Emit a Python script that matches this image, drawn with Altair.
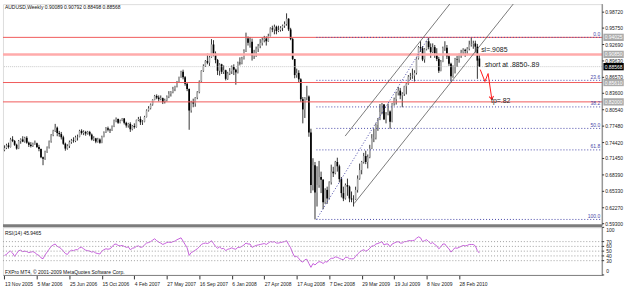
import altair as alt
import pandas as pd

FONT = "Liberation Sans"

# ---------------- data ----------------
first_week = "2005-11-13"
week_count = 235
dates = [d.strftime("%Y-%m-%d") for d in pd.date_range(first_week, periods=week_count, freq="7D")]

opens = [
    0.7300, 0.7340, 0.7390, 0.7360, 0.7500, 0.7470, 0.7400,
    0.7330, 0.7470, 0.7500, 0.7460, 0.7530, 0.7440, 0.7400, 0.7380, 0.7420, 0.7430,
    0.7360, 0.7320, 0.7170, 0.7140, 0.7270, 0.7350, 0.7460, 0.7580, 0.7660, 0.7720,
    0.7620, 0.7600, 0.7540, 0.7420, 0.7330, 0.7380, 0.7450, 0.7480, 0.7470, 0.7540,
    0.7550, 0.7660, 0.7620, 0.7640, 0.7610, 0.7640, 0.7590, 0.7500, 0.7520, 0.7460,
    0.7500, 0.7440, 0.7550, 0.7630, 0.7710, 0.7680, 0.7670, 0.7740, 0.7850, 0.7880, 0.7810, 0.7850,
    0.7890, 0.7810, 0.7760, 0.7790, 0.7690, 0.7750, 0.7730, 0.7860, 0.7880, 0.7820,
    0.7830, 0.7920, 0.8040, 0.8080, 0.8150, 0.8240, 0.8310, 0.8280, 0.8250, 0.8270,
    0.8200, 0.8230, 0.8300, 0.8350, 0.8380, 0.8440, 0.8490, 0.8580, 0.8660, 0.8760,
    0.8660, 0.8540, 0.8440, 0.8040, 0.8190, 0.8170, 0.8280, 0.8380, 0.8580, 0.8780,
    0.8870, 0.8960, 0.8930, 0.9030, 0.9270, 0.9100, 0.8980, 0.8780, 0.8900, 0.8760, 0.8790, 0.8630, 0.8730,
    0.8770, 0.8850, 0.8800, 0.8750, 0.8930, 0.8920, 0.9010, 0.9150, 0.9380, 0.9300,
    0.9320, 0.9060, 0.9120, 0.9190, 0.9240, 0.9300, 0.9350, 0.9380, 0.9330, 0.9430,
    0.9570, 0.9550, 0.9600, 0.9520, 0.9540, 0.9580, 0.9620, 0.9650, 0.9750, 0.9550,
    0.9370, 0.9000, 0.8700, 0.8740, 0.8620, 0.8250, 0.8060, 0.8280, 0.8300, 0.7630,
    0.6650, 0.7020, 0.6510, 0.6650, 0.6800, 0.6750, 0.6330, 0.6560, 0.6400, 0.6700, 0.6900, 0.6870,
    0.7080, 0.7000, 0.6760, 0.6500, 0.6400, 0.6650, 0.6620, 0.6400, 0.6380, 0.6380,
    0.6560, 0.6770, 0.6930, 0.7080, 0.7190, 0.7080, 0.7170, 0.7330, 0.7520, 0.7530,
    0.7770, 0.7870, 0.8010, 0.8150, 0.7870, 0.7970, 0.8020, 0.7830, 0.8170, 0.8250,
    0.8370, 0.8410, 0.8320, 0.8350, 0.8490, 0.8540, 0.8670, 0.8680, 0.8690, 0.8740,
    0.9010, 0.9220, 0.9200, 0.8990, 0.9180, 0.9330, 0.9220, 0.9130, 0.9220, 0.9100, 0.9000, 0.8780,
    0.8950, 0.9200, 0.9210, 0.9050, 0.8910, 0.8680, 0.8860, 0.9000, 0.8990, 0.9070,
    0.9120, 0.9170, 0.9150, 0.9190, 0.9270, 0.9280, 0.9290, 0.9230, 0.90089,
]
highs = [
    0.7390, 0.7420, 0.7440, 0.7530, 0.7560, 0.7490, 0.7420,
    0.7490, 0.7520, 0.7560, 0.7550, 0.7560, 0.7460, 0.7450, 0.7440, 0.7480, 0.7440,
    0.7400, 0.7330, 0.7180, 0.7290, 0.7370, 0.7480, 0.7600, 0.7680, 0.7790, 0.7740,
    0.7660, 0.7640, 0.7570, 0.7440, 0.7410, 0.7480, 0.7510, 0.7540, 0.7570, 0.7590,
    0.7680, 0.7690, 0.7670, 0.7660, 0.7660, 0.7660, 0.7610, 0.7560, 0.7530, 0.7530,
    0.7520, 0.7570, 0.7650, 0.7730, 0.7740, 0.7700, 0.7760, 0.7870, 0.7910, 0.7890, 0.7870, 0.7900,
    0.7900, 0.7830, 0.7810, 0.7820, 0.7770, 0.7800, 0.7870, 0.7920, 0.7930, 0.7860,
    0.7940, 0.8060, 0.8120, 0.8170, 0.8250, 0.8330, 0.8340, 0.8320, 0.8320, 0.8280,
    0.8260, 0.8320, 0.8400, 0.8400, 0.8480, 0.8500, 0.8590, 0.8670, 0.8780, 0.8800,
    0.8680, 0.8570, 0.8450, 0.8220, 0.8260, 0.8290, 0.8400, 0.8600, 0.8790, 0.8900,
    0.8980, 0.9100, 0.9060, 0.9370, 0.9350, 0.9140, 0.9000, 0.8920, 0.8910, 0.8880, 0.8800, 0.8760, 0.8830,
    0.8880, 0.8900, 0.8820, 0.8950, 0.9030, 0.9040, 0.9180, 0.9490, 0.9420, 0.9410,
    0.9380, 0.9170, 0.9230, 0.9280, 0.9370, 0.9400, 0.9430, 0.9420, 0.9470, 0.9590,
    0.9620, 0.9640, 0.9620, 0.9620, 0.9610, 0.9640, 0.9700, 0.9850, 0.9760, 0.9580,
    0.9390, 0.9000, 0.8820, 0.8790, 0.8640, 0.8290, 0.8290, 0.8500, 0.8320, 0.7700,
    0.7150, 0.7080, 0.7000, 0.7100, 0.6900, 0.6760, 0.6590, 0.6620, 0.6720, 0.7030, 0.6990, 0.7100,
    0.7160, 0.7030, 0.6800, 0.6620, 0.6680, 0.6770, 0.6640, 0.6530, 0.6460, 0.6620,
    0.6830, 0.7050, 0.7100, 0.7250, 0.7290, 0.7220, 0.7400, 0.7600, 0.7700, 0.7800,
    0.7900, 0.8160, 0.8180, 0.8160, 0.8010, 0.8170, 0.8040, 0.8180, 0.8280, 0.8390,
    0.8480, 0.8460, 0.8380, 0.8500, 0.8550, 0.8700, 0.8740, 0.8820, 0.8790, 0.9030,
    0.9240, 0.9330, 0.9240, 0.9200, 0.9340, 0.9405, 0.9290, 0.9290, 0.9260, 0.9200, 0.9040, 0.8980,
    0.9230, 0.9330, 0.9260, 0.9100, 0.8930, 0.8880, 0.9020, 0.9060, 0.9100, 0.9170,
    0.9200, 0.9190, 0.9220, 0.9340, 0.9405, 0.9340, 0.9340, 0.9280, 0.90792,
]
lows = [
    0.7280, 0.7320, 0.7330, 0.7350, 0.7450, 0.7380, 0.7310,
    0.7320, 0.7420, 0.7450, 0.7440, 0.7420, 0.7360, 0.7350, 0.7360, 0.7400, 0.7340,
    0.7280, 0.7150, 0.7020, 0.7120, 0.7250, 0.7330, 0.7440, 0.7560, 0.7640, 0.7560,
    0.7550, 0.7500, 0.7400, 0.7290, 0.7310, 0.7340, 0.7420, 0.7440, 0.7450, 0.7480,
    0.7540, 0.7590, 0.7580, 0.7570, 0.7590, 0.7560, 0.7480, 0.7470, 0.7430, 0.7440,
    0.7420, 0.7430, 0.7540, 0.7620, 0.7650, 0.7620, 0.7660, 0.7730, 0.7820, 0.7790, 0.7800, 0.7840,
    0.7780, 0.7720, 0.7720, 0.7640, 0.7670, 0.7700, 0.7720, 0.7840, 0.7770, 0.7770,
    0.7820, 0.7910, 0.8020, 0.8060, 0.8130, 0.8230, 0.8250, 0.8210, 0.8230, 0.8160,
    0.8170, 0.8210, 0.8270, 0.8300, 0.8360, 0.8400, 0.8470, 0.8560, 0.8650, 0.8620,
    0.8500, 0.8400, 0.7680, 0.8000, 0.8100, 0.8110, 0.8250, 0.8360, 0.8560, 0.8760,
    0.8850, 0.8900, 0.8870, 0.9020, 0.9050, 0.8920, 0.8700, 0.8690, 0.8720, 0.8720, 0.8600, 0.8610, 0.8700,
    0.8720, 0.8700, 0.8520, 0.8730, 0.8880, 0.8900, 0.8990, 0.9130, 0.9250, 0.9210,
    0.8970, 0.9000, 0.9040, 0.9130, 0.9200, 0.9250, 0.9310, 0.9250, 0.9320, 0.9420,
    0.9500, 0.9460, 0.9460, 0.9500, 0.9510, 0.9520, 0.9580, 0.9620, 0.9520, 0.9350,
    0.8980, 0.8640, 0.8650, 0.8560, 0.8200, 0.7800, 0.7900, 0.8230, 0.7550, 0.6500,
    0.6550, 0.6010, 0.6250, 0.6600, 0.6500, 0.6200, 0.6300, 0.6300, 0.6380, 0.6660, 0.6800, 0.6850,
    0.6900, 0.6700, 0.6420, 0.6350, 0.6380, 0.6450, 0.6330, 0.6330, 0.6250, 0.6370,
    0.6510, 0.6750, 0.6850, 0.7050, 0.7040, 0.6960, 0.7150, 0.7320, 0.7450, 0.7500,
    0.7660, 0.7860, 0.7970, 0.7870, 0.7800, 0.7950, 0.7700, 0.7820, 0.8130, 0.8150,
    0.8320, 0.8250, 0.8100, 0.8310, 0.8340, 0.8520, 0.8610, 0.8630, 0.8580, 0.8710,
    0.8990, 0.9130, 0.8960, 0.8930, 0.9160, 0.9180, 0.9020, 0.9110, 0.9020, 0.8960, 0.8740, 0.8770,
    0.8940, 0.9150, 0.9000, 0.8870, 0.8580, 0.8650, 0.8730, 0.8850, 0.8930, 0.9020,
    0.9090, 0.9040, 0.9070, 0.9160, 0.9230, 0.9190, 0.9120, 0.8630, 0.88498,
]
closes = [
    0.7340, 0.7390, 0.7360, 0.7500, 0.7470, 0.7400, 0.7330,
    0.7470, 0.7500, 0.7460, 0.7530, 0.7440, 0.7400, 0.7380, 0.7420, 0.7430, 0.7360,
    0.7320, 0.7170, 0.7140, 0.7270, 0.7350, 0.7460, 0.7580, 0.7660, 0.7720, 0.7620,
    0.7600, 0.7540, 0.7420, 0.7330, 0.7380, 0.7450, 0.7480, 0.7470, 0.7540, 0.7550,
    0.7660, 0.7620, 0.7640, 0.7610, 0.7640, 0.7590, 0.7500, 0.7520, 0.7460, 0.7500,
    0.7440, 0.7550, 0.7630, 0.7710, 0.7680, 0.7670, 0.7740, 0.7850, 0.7880, 0.7810, 0.7850, 0.7890,
    0.7810, 0.7760, 0.7790, 0.7690, 0.7750, 0.7730, 0.7860, 0.7880, 0.7820, 0.7830,
    0.7920, 0.8040, 0.8080, 0.8150, 0.8240, 0.8310, 0.8280, 0.8250, 0.8270, 0.8200,
    0.8230, 0.8300, 0.8350, 0.8380, 0.8440, 0.8490, 0.8580, 0.8660, 0.8760, 0.8660,
    0.8540, 0.8440, 0.8040, 0.8190, 0.8170, 0.8280, 0.8380, 0.8580, 0.8780, 0.8870,
    0.8960, 0.8930, 0.9030, 0.9270, 0.9100, 0.8980, 0.8780, 0.8900, 0.8760, 0.8790, 0.8630, 0.8730, 0.8770,
    0.8850, 0.8800, 0.8750, 0.8930, 0.8920, 0.9010, 0.9150, 0.9380, 0.9300, 0.9320,
    0.9060, 0.9120, 0.9190, 0.9240, 0.9300, 0.9350, 0.9380, 0.9330, 0.9430, 0.9570,
    0.9550, 0.9600, 0.9520, 0.9540, 0.9580, 0.9620, 0.9650, 0.9750, 0.9550, 0.9370,
    0.9000, 0.8700, 0.8740, 0.8620, 0.8250, 0.8060, 0.8280, 0.8300, 0.7630, 0.6650,
    0.7020, 0.6510, 0.6650, 0.6800, 0.6750, 0.6330, 0.6560, 0.6400, 0.6700, 0.6900, 0.6870, 0.7080,
    0.7000, 0.6760, 0.6500, 0.6400, 0.6650, 0.6620, 0.6400, 0.6380, 0.6380, 0.6560,
    0.6770, 0.6930, 0.7080, 0.7190, 0.7080, 0.7170, 0.7330, 0.7520, 0.7530, 0.7770,
    0.7870, 0.8010, 0.8150, 0.7870, 0.7970, 0.8020, 0.7830, 0.8170, 0.8250, 0.8370,
    0.8410, 0.8320, 0.8350, 0.8490, 0.8540, 0.8670, 0.8680, 0.8690, 0.8740, 0.9010,
    0.9220, 0.9200, 0.8990, 0.9180, 0.9330, 0.9220, 0.9130, 0.9220, 0.9100, 0.9000, 0.8780, 0.8950,
    0.9200, 0.9210, 0.9050, 0.8910, 0.8680, 0.8860, 0.9000, 0.8990, 0.9070, 0.9120,
    0.9170, 0.9150, 0.9190, 0.9270, 0.9280, 0.9290, 0.9230, 0.8970, 0.88568,
]
rsi_values = [
    41, 43, 48, 50, 46, 39, 45, 51, 52, 49,
    50, 49, 47, 48, 49, 47, 43, 41, 36, 34,
    42, 48, 54, 60, 63, 65, 60, 58, 55, 50,
    45, 43, 49, 52, 51, 53, 53, 57, 58, 55,
    52, 51, 50, 48, 49, 46, 45, 44, 50, 53,
    55, 54, 55, 59, 64, 65, 62, 61, 62, 60,
    58, 59, 53, 56, 57, 60, 61, 58, 59, 63,
    67, 68, 70, 73, 76, 72, 69, 67, 64, 66,
    68, 69, 68, 70, 71, 74, 76, 78, 71, 64,
    57, 41, 47, 49, 52, 55, 59, 64, 66, 67,
    66, 68, 72, 66, 60, 56, 59, 55, 56, 51,
    54, 55, 57, 55, 54, 58, 58, 60, 63, 67,
    65, 65, 58, 60, 62, 63, 64, 65, 66, 64,
    67, 70, 69, 70, 67, 67, 68, 69, 70, 72,
    64, 57, 46, 38, 39, 35, 29, 27, 32, 33,
    24, 16, 24, 21, 25, 28, 27, 24, 28, 27,
    32, 35, 35, 38, 37, 35, 33, 32, 37, 37,
    34, 34, 34, 39, 44, 48, 51, 53, 50, 52,
    56, 61, 61, 65, 66, 68, 70, 63, 65, 65,
    59, 65, 67, 69, 70, 67, 67, 70, 70, 72,
    72, 72, 73, 77, 80, 78, 70, 72, 74, 70,
    66, 68, 64, 61, 55, 59, 65, 65, 59, 55,
    48, 53, 57, 56, 58, 60, 62, 61, 62, 64,
    64, 64, 61, 51, 45.9465,
]

price_ticks = [0.5930, 0.6227, 0.6533, 0.6839, 0.7145, 0.7442, 0.7748, 0.8054,
               0.8360, 0.8657, 0.8963, 0.9269, 0.9575, 0.9872]
date_ticks = ["2005-11-13", "2006-03-05", "2006-06-25", "2006-10-15", "2007-02-04",
              "2007-05-27", "2007-09-16", "2008-01-06", "2008-04-27", "2008-08-17",
              "2008-12-07", "2009-03-29", "2009-07-19", "2009-11-08", "2010-02-28"]
rsi_mid_ticks = [30, 40, 50, 60, 70]
rsi_top_tick = 100
rsi_bottom_tick = 0
rsi_levels = [30, 40, 50, 60, 70]

red_levels = [0.94025, 0.85610, 0.82000]
sl_level = 0.90850
bid_price = 0.88568
box_prices = [0.94025, 0.90850, 0.85610, 0.82000, 0.88568]
box_texts = ["0.94025", "0.90850", "0.85610", "0.82000", "0.88568"]
box_kinds = ["line", "line", "line", "line", "bid"]

fib_names = ["0.0", "23.6", "38.2", "50.0", "61.8", "100.0"]
fib_prices = [0.94025, 0.86016, 0.81062, 0.77058, 0.73053, 0.60090]
fib_start = "2008-10-24"
fib_diag_dates = ["2008-10-24", "2009-11-15"]
fib_diag_prices = [0.60090, 0.94025]

channel_ids = ["lower", "lower", "upper", "upper"]
channel_dates = ["2009-03-03", "2010-09-08", "2009-01-31", "2010-02-01"]
channel_prices = [0.6305, 1.0059, 0.7563, 1.0059]

arrow_dates = ["2010-05-12", "2010-05-28", "2010-06-08", "2010-06-21"]
arrow_prices = [0.8802, 0.8580, 0.8728, 0.8247]

note_texts = ["sl=.9085", "short at .8850-.89", "tp=.82"]
note_dates = ["2010-05-15", "2010-05-28", "2010-06-18"]
note_prices = [0.9171, 0.8894, 0.8210]

title_text = "AUDUSD,Weekly  0.90089 0.90792 0.88498 0.88568"
rsi_title = "RSI(14) 45.9465"
copyright_text = "FXPro MT4, \u00a9 2001-2009 MetaQuotes Software Corp."

# ---------------- tables ----------------
bars = pd.DataFrame({"date": dates, "open": opens, "high": highs, "low": lows,
                     "close": closes, "rsi": rsi_values})
bars["dir"] = ["up" if c >= o else "down" for o, c in zip(opens, closes)]

one = pd.DataFrame({"k": [0]})
W, H_MAIN, H_RSI = 604, 223, 48
LABEL_COLOR = "#1a1a1a"


def dt(s, h=0):
    y, m, d = (int(v) for v in s.split("-"))
    return alt.DateTime(year=y, month=m, date=d, hours=h, utc=True)


x_scale = alt.Scale(type="utc", domain=[dt("2005-11-07", 21), dt("2011-07-06", 12)])
y_scale = alt.Scale(domain=[0.5899, 1.0022], nice=False, zero=False)

X = alt.X("date:T", scale=x_scale, axis=None)

# ---------------- main panel ----------------
base = alt.Chart(bars)
wicks = base.mark_rule(color="#333333", strokeWidth=1).encode(
    x=X, y=alt.Y("low:Q", scale=y_scale, axis=None), y2="high:Q")
bodies = base.mark_rule(strokeWidth=1.7).encode(
    x=X, y=alt.Y("open:Q", scale=y_scale, axis=None), y2="close:Q",
    color=alt.Color("dir:N", scale=alt.Scale(domain=["up", "down"], range=["#ababab", "#000000"]),
                    legend=None))

red_lines = alt.Chart(pd.DataFrame({"p": red_levels})).mark_rule(
    color="#f05a5a", strokeWidth=1).encode(y=alt.Y("p:Q", scale=y_scale, axis=None))
sl_line = alt.Chart(pd.DataFrame({"p": [sl_level]})).mark_rule(
    color="#ffabab", strokeWidth=2.5).encode(y=alt.Y("p:Q", scale=y_scale, axis=None))
bid_line = alt.Chart(pd.DataFrame({"p": [bid_price]})).mark_rule(
    color="#c8c8c8", strokeWidth=1, strokeDash=[1, 1]).encode(y=alt.Y("p:Q", scale=y_scale, axis=None))

fib_df = pd.DataFrame({"name": fib_names, "p": fib_prices, "start": [fib_start] * len(fib_names)})
fib_rules = alt.Chart(fib_df).mark_rule(color="#4848a8", strokeWidth=1, strokeDash=[1, 2]).encode(
    x=alt.X("start:T", scale=x_scale, axis=None), x2=alt.value(W),
    y=alt.Y("p:Q", scale=y_scale, axis=None))
fib_text = alt.Chart(fib_df).mark_text(align="right", baseline="bottom", fontSize=5, font=FONT,
                                       color="#4848a8", dy=-0.5).encode(
    x=alt.value(W - 2), y=alt.Y("p:Q", scale=y_scale, axis=None), text="name:N")
fib_diag = alt.Chart(pd.DataFrame({"d": fib_diag_dates, "p": fib_diag_prices})).mark_line(
    color="#4848a8", strokeWidth=1, strokeDash=[1, 2]).encode(
    x=alt.X("d:T", scale=x_scale, axis=None), y=alt.Y("p:Q", scale=y_scale, axis=None))

channels = alt.Chart(pd.DataFrame({"id": channel_ids, "d": channel_dates, "p": channel_prices})).mark_line(
    color="#5a5a5a", strokeWidth=0.8, clip=True).encode(
    x=alt.X("d:T", scale=x_scale, axis=None), y=alt.Y("p:Q", scale=y_scale, axis=None),
    detail="id:N")

arrow_df = pd.DataFrame({"d": arrow_dates, "p": arrow_prices, "o": list(range(len(arrow_dates)))})
arrow_line = alt.Chart(arrow_df).mark_line(color="#ff1a1a", strokeWidth=1).encode(
    x=alt.X("d:T", scale=x_scale, axis=None), y=alt.Y("p:Q", scale=y_scale, axis=None), order="o:Q")
arrow_head = alt.Chart(arrow_df.tail(1)).mark_point(
    shape="M-0.7,-1L0,0L0.7,-1", filled=False, color="#ff1a1a", strokeWidth=1, size=40, angle=351,
    opacity=1).encode(x=alt.X("d:T", scale=x_scale, axis=None), y=alt.Y("p:Q", scale=y_scale, axis=None))

notes = alt.Chart(pd.DataFrame({"t": note_texts, "d": note_dates, "p": note_prices})).mark_text(
    align="left", baseline="middle", fontSize=7, font=FONT, color="#222222").encode(
    x=alt.X("d:T", scale=x_scale, axis=None), y=alt.Y("p:Q", scale=y_scale, axis=None), text="t:N")

# price scale on the right (drawn as marks)
tick_df = pd.DataFrame({"p": price_ticks})
price_tick_marks = alt.Chart(tick_df).mark_rule(color="#333333", strokeWidth=1).encode(
    x=alt.value(W), x2=alt.value(W + 2), y=alt.Y("p:Q", scale=y_scale, axis=None))
price_tick_labels = alt.Chart(tick_df).mark_text(
    align="left", baseline="middle", fontSize=5, font=FONT, color=LABEL_COLOR).encode(
    x=alt.value(W + 3), y=alt.Y("p:Q", scale=y_scale, axis=None), text=alt.Text("p:Q", format=".5f"))

box_df = pd.DataFrame({"p": box_prices, "t": box_texts, "kind": box_kinds})
boxes = alt.Chart(box_df).mark_point(
    shape="M-1,-0.36L1,-0.36L1,0.36L-1,0.36Z", filled=True, size=420, opacity=1,
    strokeWidth=0).encode(
    x=alt.value(W + 11.5), y=alt.Y("p:Q", scale=y_scale, axis=None),
    color=alt.Color("kind:N", scale=alt.Scale(domain=["line", "bid"], range=["#ee1c1c", "#000000"]),
                    legend=None))
box_text = alt.Chart(box_df).mark_text(align="left", baseline="middle", fontSize=5, font=FONT,
                                       color="white").encode(
    x=alt.value(W + 2.5), y=alt.Y("p:Q", scale=y_scale, axis=None), text="t:N")

right_border = alt.Chart(one).mark_rule(color="#707070", strokeWidth=1).encode(
    x=alt.value(W), y=alt.value(0), y2=alt.value(H_MAIN))

title = alt.Chart(one).mark_text(align="left", baseline="middle", fontSize=5, font=FONT,
                                 color="#111111").encode(
    x=alt.value(2), y=alt.value(3), text=alt.value(title_text))

main = alt.layer(
    wicks, bodies, bid_line, red_lines, sl_line, fib_rules, fib_diag, channels,
    fib_text, arrow_line, arrow_head, notes, right_border, price_tick_marks, price_tick_labels,
    boxes, box_text, title,
).properties(width=W, height=H_MAIN)

# ---------------- RSI panel ----------------
date_axis = alt.Axis(values=[dt(s) for s in date_ticks], format="%-d %b %Y", labelFontSize=5,
                     labelFont=FONT, labelColor=LABEL_COLOR, labelAlign="left", labelPadding=3,
                     tickSize=4, tickColor="#333333", domainColor="#808080", grid=False,
                     title=None, labelOverlap=False, labelFlush=False)
rsi_scale = alt.Scale(domain=[0, 100], nice=False)

rsi_lines = alt.Chart(pd.DataFrame({"lvl": rsi_levels})).mark_rule(
    color="#a0a0a0", strokeWidth=1, strokeDash=[1, 2]).encode(y=alt.Y("lvl:Q", scale=rsi_scale, axis=None))
rsi_line = alt.Chart(bars).mark_line(color="#c660dc", strokeWidth=1).encode(
    x=alt.X("date:T", scale=x_scale, axis=date_axis),
    y=alt.Y("rsi:Q", scale=rsi_scale, axis=None))

rsi_tick_df = pd.DataFrame({"v": [rsi_bottom_tick] + rsi_mid_ticks + [rsi_top_tick]})
rsi_tick_marks = alt.Chart(rsi_tick_df).mark_rule(color="#333333", strokeWidth=1).encode(
    x=alt.value(W), x2=alt.value(W + 2), y=alt.Y("v:Q", scale=rsi_scale, axis=None))
rsi_mid_labels = alt.Chart(pd.DataFrame({"v": rsi_mid_ticks})).mark_text(
    align="left", baseline="middle", fontSize=5, font=FONT, color=LABEL_COLOR).encode(
    x=alt.value(W + 4), y=alt.Y("v:Q", scale=rsi_scale, axis=None), text=alt.Text("v:Q", format="d"))
rsi_top_label = alt.Chart(pd.DataFrame({"v": [rsi_top_tick]})).mark_text(
    align="left", baseline="top", fontSize=5, font=FONT, color=LABEL_COLOR, dy=1).encode(
    x=alt.value(W + 4), y=alt.Y("v:Q", scale=rsi_scale, axis=None), text=alt.Text("v:Q", format="d"))
rsi_bottom_label = alt.Chart(pd.DataFrame({"v": [rsi_bottom_tick]})).mark_text(
    align="left", baseline="bottom", fontSize=5, font=FONT, color=LABEL_COLOR, dy=-1).encode(
    x=alt.value(W + 4), y=alt.Y("v:Q", scale=rsi_scale, axis=None), text=alt.Text("v:Q", format="d"))
rsi_right_border = alt.Chart(one).mark_rule(color="#707070", strokeWidth=1).encode(
    x=alt.value(W), y=alt.value(0), y2=alt.value(H_RSI))

separator = alt.Chart(one).mark_rule(color="#7c7c7c", strokeWidth=3).encode(
    x=alt.value(0), x2=alt.value(W), y=alt.value(-1.5))
rsi_label = alt.Chart(one).mark_text(align="left", baseline="middle", fontSize=5, font=FONT,
                                     color="#111111").encode(
    x=alt.value(2), y=alt.value(6), text=alt.value(rsi_title))
copyright_label = alt.Chart(one).mark_text(align="left", baseline="middle", fontSize=5, font=FONT,
                                           color="#111111").encode(
    x=alt.value(2), y=alt.value(45), text=alt.value(copyright_text))

rsi = alt.layer(rsi_line, rsi_lines, separator, rsi_label, copyright_label, rsi_right_border,
                rsi_tick_marks, rsi_mid_labels, rsi_top_label, rsi_bottom_label).properties(
    width=W, height=H_RSI)

chart = alt.vconcat(main, rsi, spacing=2, bounds="flush").properties(
    padding={"left": 1, "top": 2, "right": 0, "bottom": 0},
    background="white",
).configure_view(stroke="#808080", strokeWidth=1).configure(font=FONT)

chart.save("out.html", embed_options={"renderer": "svg", "actions": False})
